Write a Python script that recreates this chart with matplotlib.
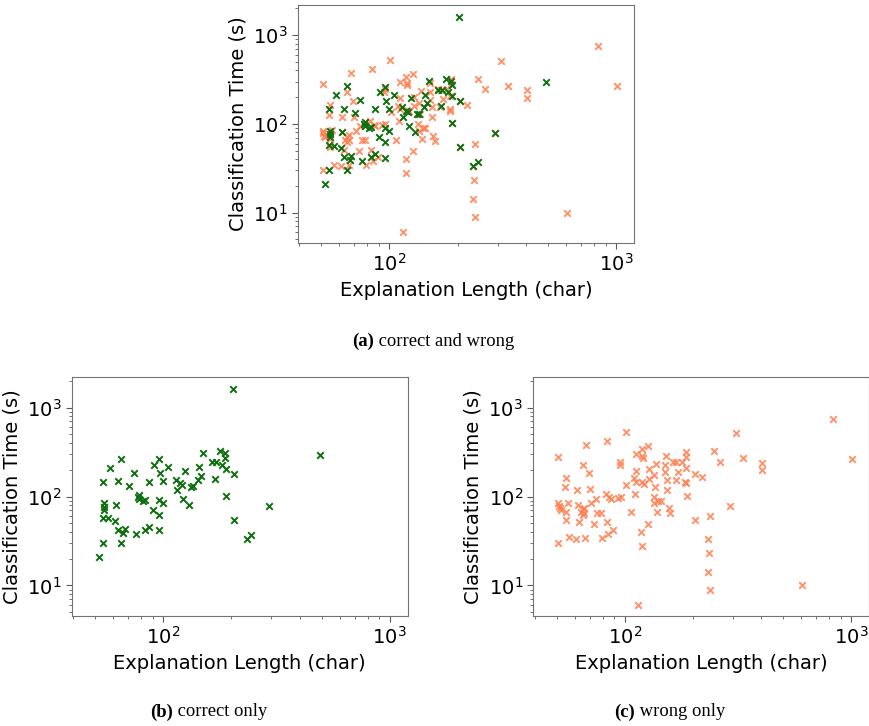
import matplotlib
matplotlib.use('Agg')
import matplotlib.pyplot as plt

# correct answers (green)
correct_len = [203, 490, 51.9, 54.1, 54.1, 54.8, 54.8, 54.8, 54.1, 56.8, 58.0, 61.1, 61.9,
               63.0, 63.0, 65.0, 65.0, 66.7, 67.6, 70.3, 74.0, 76.0, 77.0, 78.3, 78.3, 81.1,
               83.2, 83.2, 86.1, 86.1, 89.7, 91.2, 95.4, 95.4, 95.4, 95.4, 97.0, 99.3, 100,
               105.2, 113.8, 114.5, 118.5, 121, 121.8, 124.7, 130, 133, 134.9, 141.9, 143.3,
               146.8, 149.3, 164, 168.6, 171, 178, 182, 187, 188, 189, 188.5, 205.5, 205.5,
               234.5, 245, 292]
correct_time = [1607, 294, 21.1, 30.3, 146, 83.7, 76.9, 70.6, 58, 57, 209, 53.6, 80.4,
                149, 41.8, 264, 30.3, 39.3, 43.5, 132, 185, 38.3, 100, 104, 93.8, 89.1,
                92, 41.8, 45.5, 146, 70.6, 229, 261, 62.1, 90.6, 41.6, 182, 83.7, 149,
                214, 153, 118, 141, 135, 93.8, 195, 80.4, 129, 130, 155, 214,
                170, 305, 242, 157, 242, 324, 229, 305, 273, 205, 102, 179, 54.5,
                33.4, 37, 78.9]

# wrong answers (orange)
wrong_len = [50.9, 50.9, 51.2, 51.6, 50.9, 52.1, 54.8, 54.3, 54.8, 54.8, 56.0, 56.8, 61.0,
             61.5, 62.0, 62.8, 63.9, 65.1, 65.1, 65.2, 66.1, 66.1, 66.5, 67.7, 69.1, 70.0,
             71.0, 73.2, 74.5, 75.5, 78.3, 79.1, 82.4, 83.0, 83.5, 84.4, 85.3, 86.7, 89.1,
             93.1, 95.1, 95.3, 95.7, 101, 101.7, 107, 110.7, 109.6, 111.9, 111.9, 111.5,
             114.5, 118.1, 118.9, 118.9, 119.7, 120, 119.7, 121.7, 126.8, 126.8, 128.2,
             128.2, 133.9, 134.9, 135.8, 134.9, 138, 139.4, 140.3, 144.2, 150.7, 150.7,
             151.7, 153.8, 154, 156, 159, 164, 168, 169, 172.6, 179.7, 184.8, 186, 187,
             187, 186, 188.4, 204.6, 204.6, 220.4, 234.2, 236, 234.2, 237.6, 239, 246.7,
             263, 292, 311, 333, 403, 403, 609, 832, 1014]
wrong_time = [280, 83.7, 78.9, 73.6, 30.3, 70.6, 163, 127, 67.6, 54.5, 85.3, 34.8, 33.1,
              118, 80.4, 51.3, 66.4, 226, 71.8, 62.1, 66, 75, 34.3, 379, 182, 120,
              83.7, 49.6, 93.8, 66, 66, 34.3, 107, 51.3, 419, 37.7, 97.9, 93.8, 42.1,
              97, 226, 246, 100, 525, 135, 66.6, 107, 160, 300, 195, 146,
              6.07, 40.4, 28.1, 341, 287, 273, 144, 138, 49.2, 368, 202,
              157, 100, 174, 129, 83.7, 235, 67.6, 89.1, 89.7, 226, 187,
              287, 153, 118, 73.6, 64.6, 246, 153, 242, 190, 246, 146, 141, 318,
              280, 207, 102, 179, 54.5, 164, 33.4, 23.1, 14.1, 60, 9.0, 324,
              246, 78.9, 515, 270, 238, 198, 10, 753, 264]

captions = ['correct and wrong', 'correct only', 'wrong only']
tags = ['(a)', '(b)', '(c)']

GREEN = '#0f6e0f'
ORANGE = '#ff7f50'

W, H = 870, 726
fig = plt.figure(figsize=(W / 100, H / 100), dpi=100)


def make_ax(left, top, right, bottom):
    ax = fig.add_axes([left / W, 1 - bottom / H, (right - left) / W, (bottom - top) / H])
    ax.set_xscale('log')
    ax.set_yscale('log')
    ax.set_xlim(39.4, 1200)
    ax.set_ylim(4.57, 2190)
    ax.set_xlabel('Explanation Length (char)', fontsize=14)
    ax.set_ylabel('Classification Time (s)', fontsize=14)
    ax.tick_params(which='major', labelsize=14, length=4, color='0.35')
    ax.tick_params(which='minor', length=2, color='0.35')
    for s in ax.spines.values():
        s.set_color('0.45')
    return ax


ax_a = make_ax(297.7, 5, 634, 242.7)
ax_a.scatter(wrong_len, wrong_time, marker='x', s=22, color=ORANGE, alpha=0.85, linewidths=1.4)
ax_a.scatter(correct_len, correct_time, marker='x', s=22, color=GREEN, linewidths=1.4)

ax_b = make_ax(71.7, 377.3, 407.7, 615.7)
ax_b.scatter(correct_len, correct_time, marker='x', s=22, color=GREEN, linewidths=1.4)

ax_c = make_ax(533.3, 377.3, 869, 615.7)
ax_c.scatter(wrong_len, wrong_time, marker='x', s=22, color=ORANGE, alpha=0.85, linewidths=1.4)

# captions: bold tag followed by regular text, centred under each panel
cap_pos = [(433, 341), (209, 712), (670, 712)]
r = fig.canvas.get_renderer()
for (cx, cy), tag, text in zip(cap_pos, tags, captions):
    tb = fig.text(0, 0, tag, fontweight='bold', family='Liberation Serif',
                  fontsize=13.4, va='center', ha='left')
    tr = fig.text(0, 0, ' ' + text, family='Liberation Serif',
                  fontsize=13.4, va='center', ha='left')
    wb = tb.get_window_extent(r).width
    wr = tr.get_window_extent(r).width
    x0 = cx - (wb + wr) / 2
    tb.set_position((x0 / W, 1 - cy / H))
    tr.set_position(((x0 + wb) / W, 1 - cy / H))

fig.savefig('out.png', dpi=100)
